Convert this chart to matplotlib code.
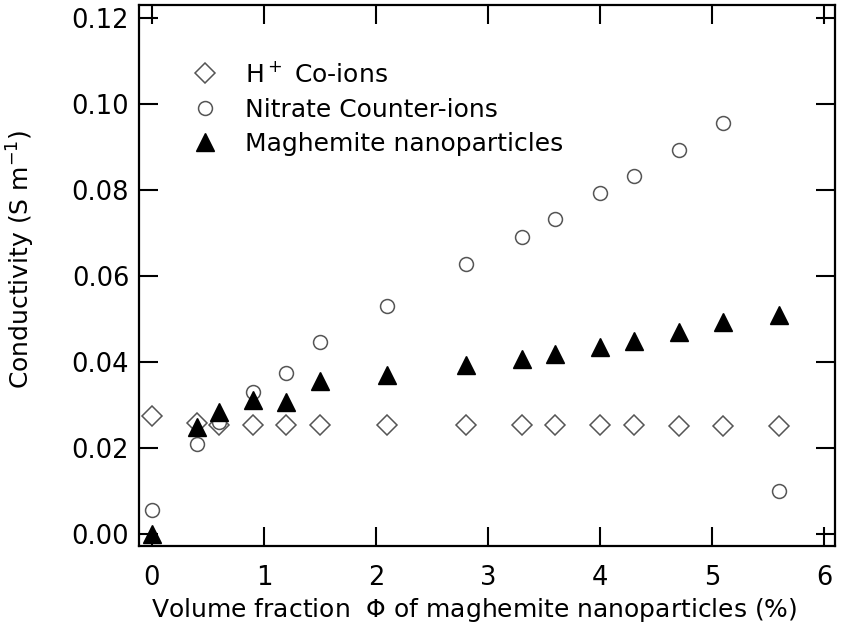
import matplotlib
matplotlib.use("Agg")
import matplotlib.pyplot as plt

# volume fraction (%)
phi = [0, 0.4, 0.6, 0.9, 1.2, 1.5, 2.1, 2.8, 3.3, 3.6, 4.0, 4.3, 4.7, 5.1, 5.6]

# conductivities (S/m)
h_coions = [0.0274, 0.0258, 0.0254, 0.0253, 0.0253, 0.0253, 0.0253, 0.0252,
            0.0252, 0.0252, 0.0252, 0.0252, 0.0251, 0.0251, 0.0251]
nitrate = [0.0056, 0.0209, 0.0260, 0.0330, 0.0374, 0.0445, 0.0530, 0.0627,
           0.0690, 0.0733, 0.0792, 0.0833, 0.0892, 0.0955, 0.0100]
maghemite = [0.0, 0.0249, 0.0284, 0.0312, 0.0307, 0.0355, 0.0370, 0.0393,
             0.0407, 0.0419, 0.0435, 0.0449, 0.0470, 0.0493, 0.0509]

plt.rcParams['font.family'] = ['DejaVu Sans']
plt.rcParams['mathtext.fontset'] = 'dejavusans'
fig = plt.figure(figsize=(8.42, 6.28), dpi=100)
ax = fig.add_axes([0.165, 0.131, 0.827, 0.861])

ax.plot(phi, h_coions, linestyle='none', marker='D', markersize=10,
        markerfacecolor='white', markeredgecolor='#555555', markeredgewidth=1.1,
        label=r'H$^+$ Co-ions')
ax.plot(phi, nitrate, linestyle='none', marker='o', markersize=10,
        markerfacecolor='white', markeredgecolor='#555555', markeredgewidth=1.1,
        label='Nitrate Counter-ions')
ax.plot(phi, maghemite, linestyle='none', marker='^', markersize=12.5,
        color='black', label='Maghemite nanoparticles')

ax.set_xlim(-0.116, 6.098)
ax.set_ylim(-0.0028, 0.123)
ax.set_xticks([0, 1, 2, 3, 4, 5, 6])
ax.set_yticks([0.0, 0.02, 0.04, 0.06, 0.08, 0.10, 0.12])
ax.set_yticklabels(['0.00', '0.02', '0.04', '0.06', '0.08', '0.10', '0.12'])

ax.tick_params(direction='in', length=14, width=1.5, labelsize=18.5,
               top=True, right=True, colors='black')
ax.tick_params(axis='x', pad=14)
ax.tick_params(axis='y', pad=7)
for s in ax.spines.values():
    s.set_linewidth(1.6)

ax.set_xlabel(r'Volume fraction  $\Phi$ of maghemite nanoparticles (%)', fontsize=18)
ax.set_ylabel(r'Conductivity (S m$^{-1}$)', fontsize=18)
ax.xaxis.set_label_coords(0.481, -0.093)
ax.yaxis.set_label_coords(-0.147, 0.529)

ax.legend(loc='upper left', bbox_to_anchor=(0.059, 0.913), frameon=False,
          fontsize=18, handlelength=1.2, handletextpad=1.0, labelspacing=0.42,
          borderaxespad=0)

fig.savefig('out.png', dpi=100)
